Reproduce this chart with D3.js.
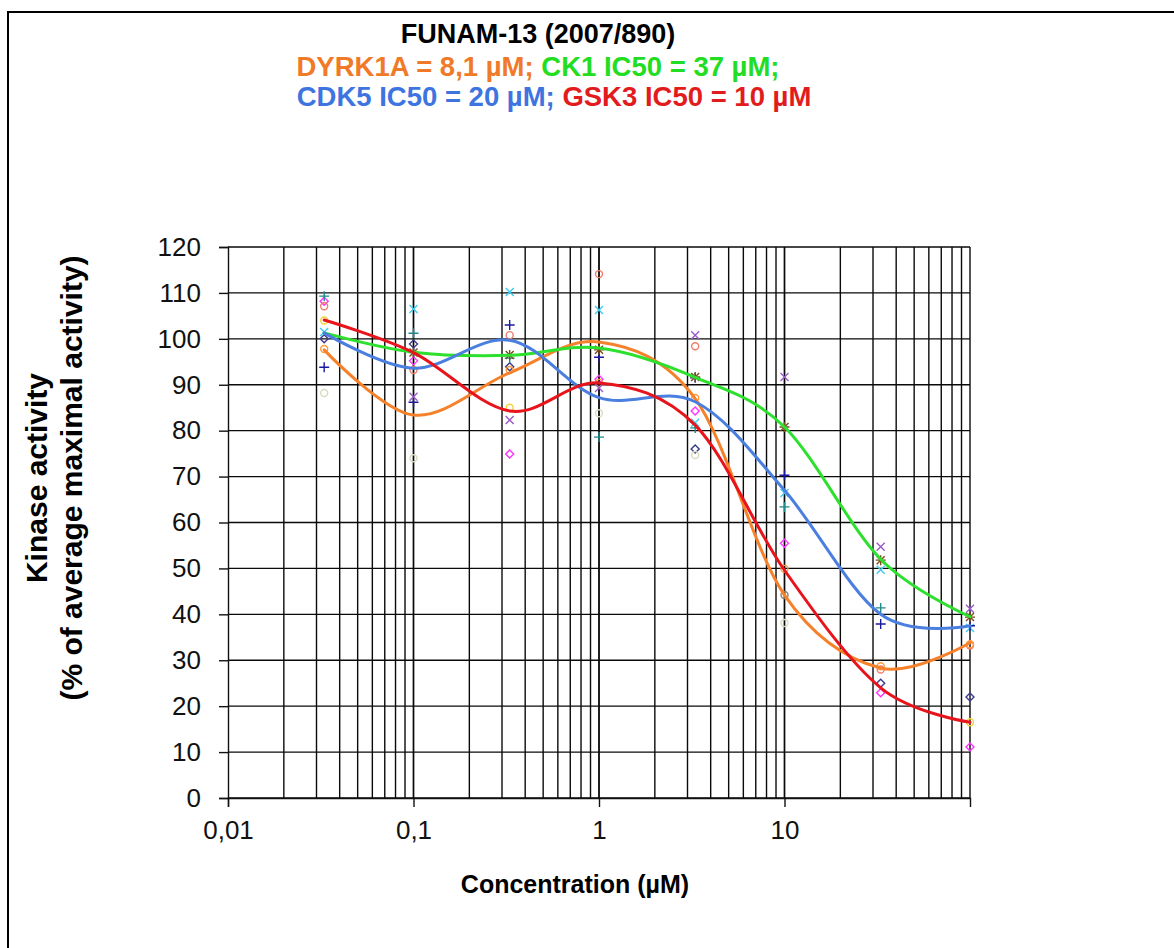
<!DOCTYPE html>
<html>
<head>
<meta charset="utf-8">
<script src="https://cdn.jsdelivr.net/npm/d3@7"></script>
<style>
  html, body { margin: 0; padding: 0; background: #fff; }
  svg { display: block; }
  text { font-family: "Liberation Sans", Arial, sans-serif; }
</style>
</head>
<body>
<svg id="chart" width="1174" height="948"></svg>
<script>
// ---- data ----
const conc = [0.033, 0.1, 0.33, 1, 3.3, 10, 33, 100];

const dyrk1a = [97.6, 83.4, 92.6, 99.3, 87.0, 44.2, 28.3, 33.8];
const ck1    = [101.3, 97.1, 96.4, 98.0, 91.6, 80.8, 52.0, 39.5];
const cdk5   = [101.3, 93.6, 99.7, 87.2, 86.3, 67.0, 40.0, 37.5];
const gsk3   = [104.1, 97.0, 84.3, 90.4, 81.2, 49.6, 24.0, 16.5];

// individual replicate readings
const repNavyDiamond    = [100.0, 98.9, 93.9, null, 76.0, null, 25.0, 22.0];
const repMagentaDiamond = [108.2, 95.2, 74.9, 91.2, 84.3, 55.5, 22.9, 11.1];
const repSalmonCircle   = [107.1, 93.2, 100.8, 114.1, 98.4, null, 28.0, 33.2];
const repOrangeCircle   = [97.8, null, 93.2, 90.4, 87.1, 49.9, 28.7, 33.5];
const repPaleCircle     = [88.2, 74.0, null, 83.8, 74.7, 38.1, null, null];
const repYellowCircle   = [104.0, null, 85.0, null, null, null, null, 16.5];
const repGrayCircle     = [null, null, null, null, null, 44.2, null, null];
const repCyanX          = [101.5, 106.5, 110.2, 106.3, 81.7, 66.4, 49.7, 37.0];
const repTealPlus       = [109.3, 101.2, 95.8, 78.6, 80.6, 63.4, 41.4, null];
const repBluePlus       = [93.8, 86.2, 103.0, 96.0, 91.5, 70.3, 37.9, 37.5];
const repPurpleX        = [null, 87.4, 82.3, 89.3, 100.8, 91.7, 54.7, 41.2];
const repBrownStar      = [null, 97.0, 96.5, 97.6, 91.7, 80.8, 51.8, 39.4];

const yTicks = [0, 10, 20, 30, 40, 50, 60, 70, 80, 90, 100, 110, 120];
const xTickValues = [0.01, 0.1, 1, 10];
const xTickLabels = ["0,01", "0,1", "1", "10"];

const curves = [
  { values: dyrk1a, color: "#F5822A" },
  { values: ck1,    color: "#2EE02E" },
  { values: cdk5,   color: "#4A7FE0" },
  { values: gsk3,   color: "#E8141B" }
];

const reps = [
  { values: repNavyDiamond,    shape: "diamond", color: "#3A3A8C" },
  { values: repMagentaDiamond, shape: "diamond", color: "#FF33FF" },
  { values: repSalmonCircle,   shape: "circle",  color: "#F07C6C" },
  { values: repOrangeCircle,   shape: "circle",  color: "#FF9A3C" },
  { values: repPaleCircle,     shape: "circle",  color: "#DADAC0" },
  { values: repYellowCircle,   shape: "circle",  color: "#F2D43A" },
  { values: repGrayCircle,     shape: "circle",  color: "#8C7C6C" },
  { values: repCyanX,          shape: "x",       color: "#3CCCF0" },
  { values: repTealPlus,       shape: "plus",    color: "#1E8A8A" },
  { values: repBluePlus,       shape: "plus",    color: "#1A1AA0" },
  { values: repPurpleX,        shape: "x",       color: "#9A5AC8" },
  { values: repBrownStar,      shape: "star",    color: "#7A4A1A" }
];

// ---- layout ----
const svg = d3.select("#chart");
const plotLeft = 228, plotRight = 970, plotTop = 247, plotBottom = 798;

const x = d3.scaleLog().domain([0.01, 100]).range([plotLeft, plotRight]);
const y = d3.scaleLinear().domain([0, 120]).range([plotBottom, plotTop]);

// frame
svg.append("rect").attr("x", 8).attr("y", 12).attr("width", 1180).attr("height", 950)
  .attr("fill", "none").attr("stroke", "#000").attr("stroke-width", 2);

// grid
const grid = svg.append("g").attr("stroke", "#0a0a0a").attr("stroke-width", 1.4);
const minor = [];
[0.01, 0.1, 1, 10].forEach(d => { for (let k = 1; k <= 10; k++) minor.push(d * k); });
grid.selectAll("line.v").data(minor.filter(v => v > 0.0100001)).enter().append("line")
  .attr("x1", d => x(d)).attr("x2", d => x(d)).attr("y1", plotTop).attr("y2", plotBottom);
grid.selectAll("line.h").data(yTicks).enter().append("line")
  .attr("x1", plotLeft).attr("x2", plotRight).attr("y1", d => y(d)).attr("y2", d => y(d));

// axes
const yAxis = d3.axisLeft(y).tickValues(yTicks).tickSize(9).tickPadding(18);
const gy = svg.append("g").attr("transform", `translate(${plotLeft},0)`).call(yAxis);
gy.select(".domain").attr("stroke", "#111").attr("stroke-width", 1.4);
gy.selectAll(".tick line").attr("stroke", "#111").attr("stroke-width", 1.4);
gy.selectAll("text").attr("font-size", 26).attr("fill", "#111")
  .attr("font-family", "Liberation Sans, Arial, sans-serif");

const xAxis = d3.axisBottom(x).tickValues(xTickValues)
  .tickFormat((d, i) => xTickLabels[i]).tickSize(9).tickPadding(14);
const gx = svg.append("g").attr("transform", `translate(0,${plotBottom})`).call(xAxis);
gx.select(".domain").attr("stroke", "#111").attr("stroke-width", 1.4);
gx.selectAll(".tick line").attr("stroke", "#111").attr("stroke-width", 1.4);
gx.selectAll("text").attr("font-size", 26).attr("fill", "#111")
  .attr("font-family", "Liberation Sans, Arial, sans-serif");

// replicate markers
const mk = svg.append("g").attr("fill", "none").attr("stroke-width", 1.4);
reps.forEach(r => {
  r.values.forEach((v, i) => {
    if (v === null) return;
    const cx = x(conc[i]), cy = y(v), s = 4;
    const g = mk.append("g").attr("stroke", r.color);
    if (r.shape === "diamond") {
      g.append("path").attr("d", `M${cx},${cy - s}L${cx + s},${cy}L${cx},${cy + s}L${cx - s},${cy}Z`);
    } else if (r.shape === "circle") {
      g.append("circle").attr("cx", cx).attr("cy", cy).attr("r", 3.5);
    } else {
      if (r.shape === "x" || r.shape === "star") {
        g.append("path").attr("d", `M${cx - s},${cy - s}L${cx + s},${cy + s}M${cx - s},${cy + s}L${cx + s},${cy - s}`);
      }
      if (r.shape === "plus" || r.shape === "star") {
        g.append("path").attr("d", `M${cx - s - 1},${cy}L${cx + s + 1},${cy}M${cx},${cy - s - 1}L${cx},${cy + s + 1}`);
      }
    }
  });
});

// smoothed curves
const line = d3.line().x((d, i) => x(conc[i])).y(d => y(d)).curve(d3.curveCardinal.tension(0));
curves.forEach(c => {
  svg.append("path").attr("d", line(c.values)).attr("fill", "none")
    .attr("stroke", c.color).attr("stroke-width", 3).attr("stroke-linecap", "round");
});

// titles
const t = svg.append("text").attr("text-anchor", "middle").attr("font-weight", "bold").attr("font-size", 27);
t.append("tspan").attr("x", 538).attr("y", 43).attr("fill", "#000").text("FUNAM-13 (2007/890)");
const l2 = svg.append("text").attr("text-anchor", "middle").attr("font-weight", "bold").attr("font-size", 27.5)
  .attr("x", 538).attr("y", 76);
l2.append("tspan").attr("fill", "#F07A28").text("DYRK1A = 8,1 µM; ");
l2.append("tspan").attr("fill", "#22DD22").text("CK1 IC50 = 37 µM;");
const l3 = svg.append("text").attr("text-anchor", "middle").attr("font-weight", "bold").attr("font-size", 27.5)
  .attr("x", 554).attr("y", 106);
l3.append("tspan").attr("fill", "#3E74E0").text("CDK5 IC50 = 20 µM; ");
l3.append("tspan").attr("fill", "#E21C1C").text("GSK3 IC50 = 10 µM");

// axis titles
svg.append("text").attr("x", 575).attr("y", 893).attr("text-anchor", "middle")
  .attr("font-weight", "bold").attr("font-size", 25).attr("fill", "#000").text("Concentration (µM)");
const yt = svg.append("text").attr("transform", "translate(0,478) rotate(-90)")
  .attr("text-anchor", "middle").attr("font-weight", "bold").attr("font-size", 30).attr("fill", "#000");
yt.append("tspan").attr("x", 0).attr("y", 47).text("Kinase activity");
yt.append("tspan").attr("x", 0).attr("y", 82).text("(% of average maximal activity)");
</script>
</body>
</html>
